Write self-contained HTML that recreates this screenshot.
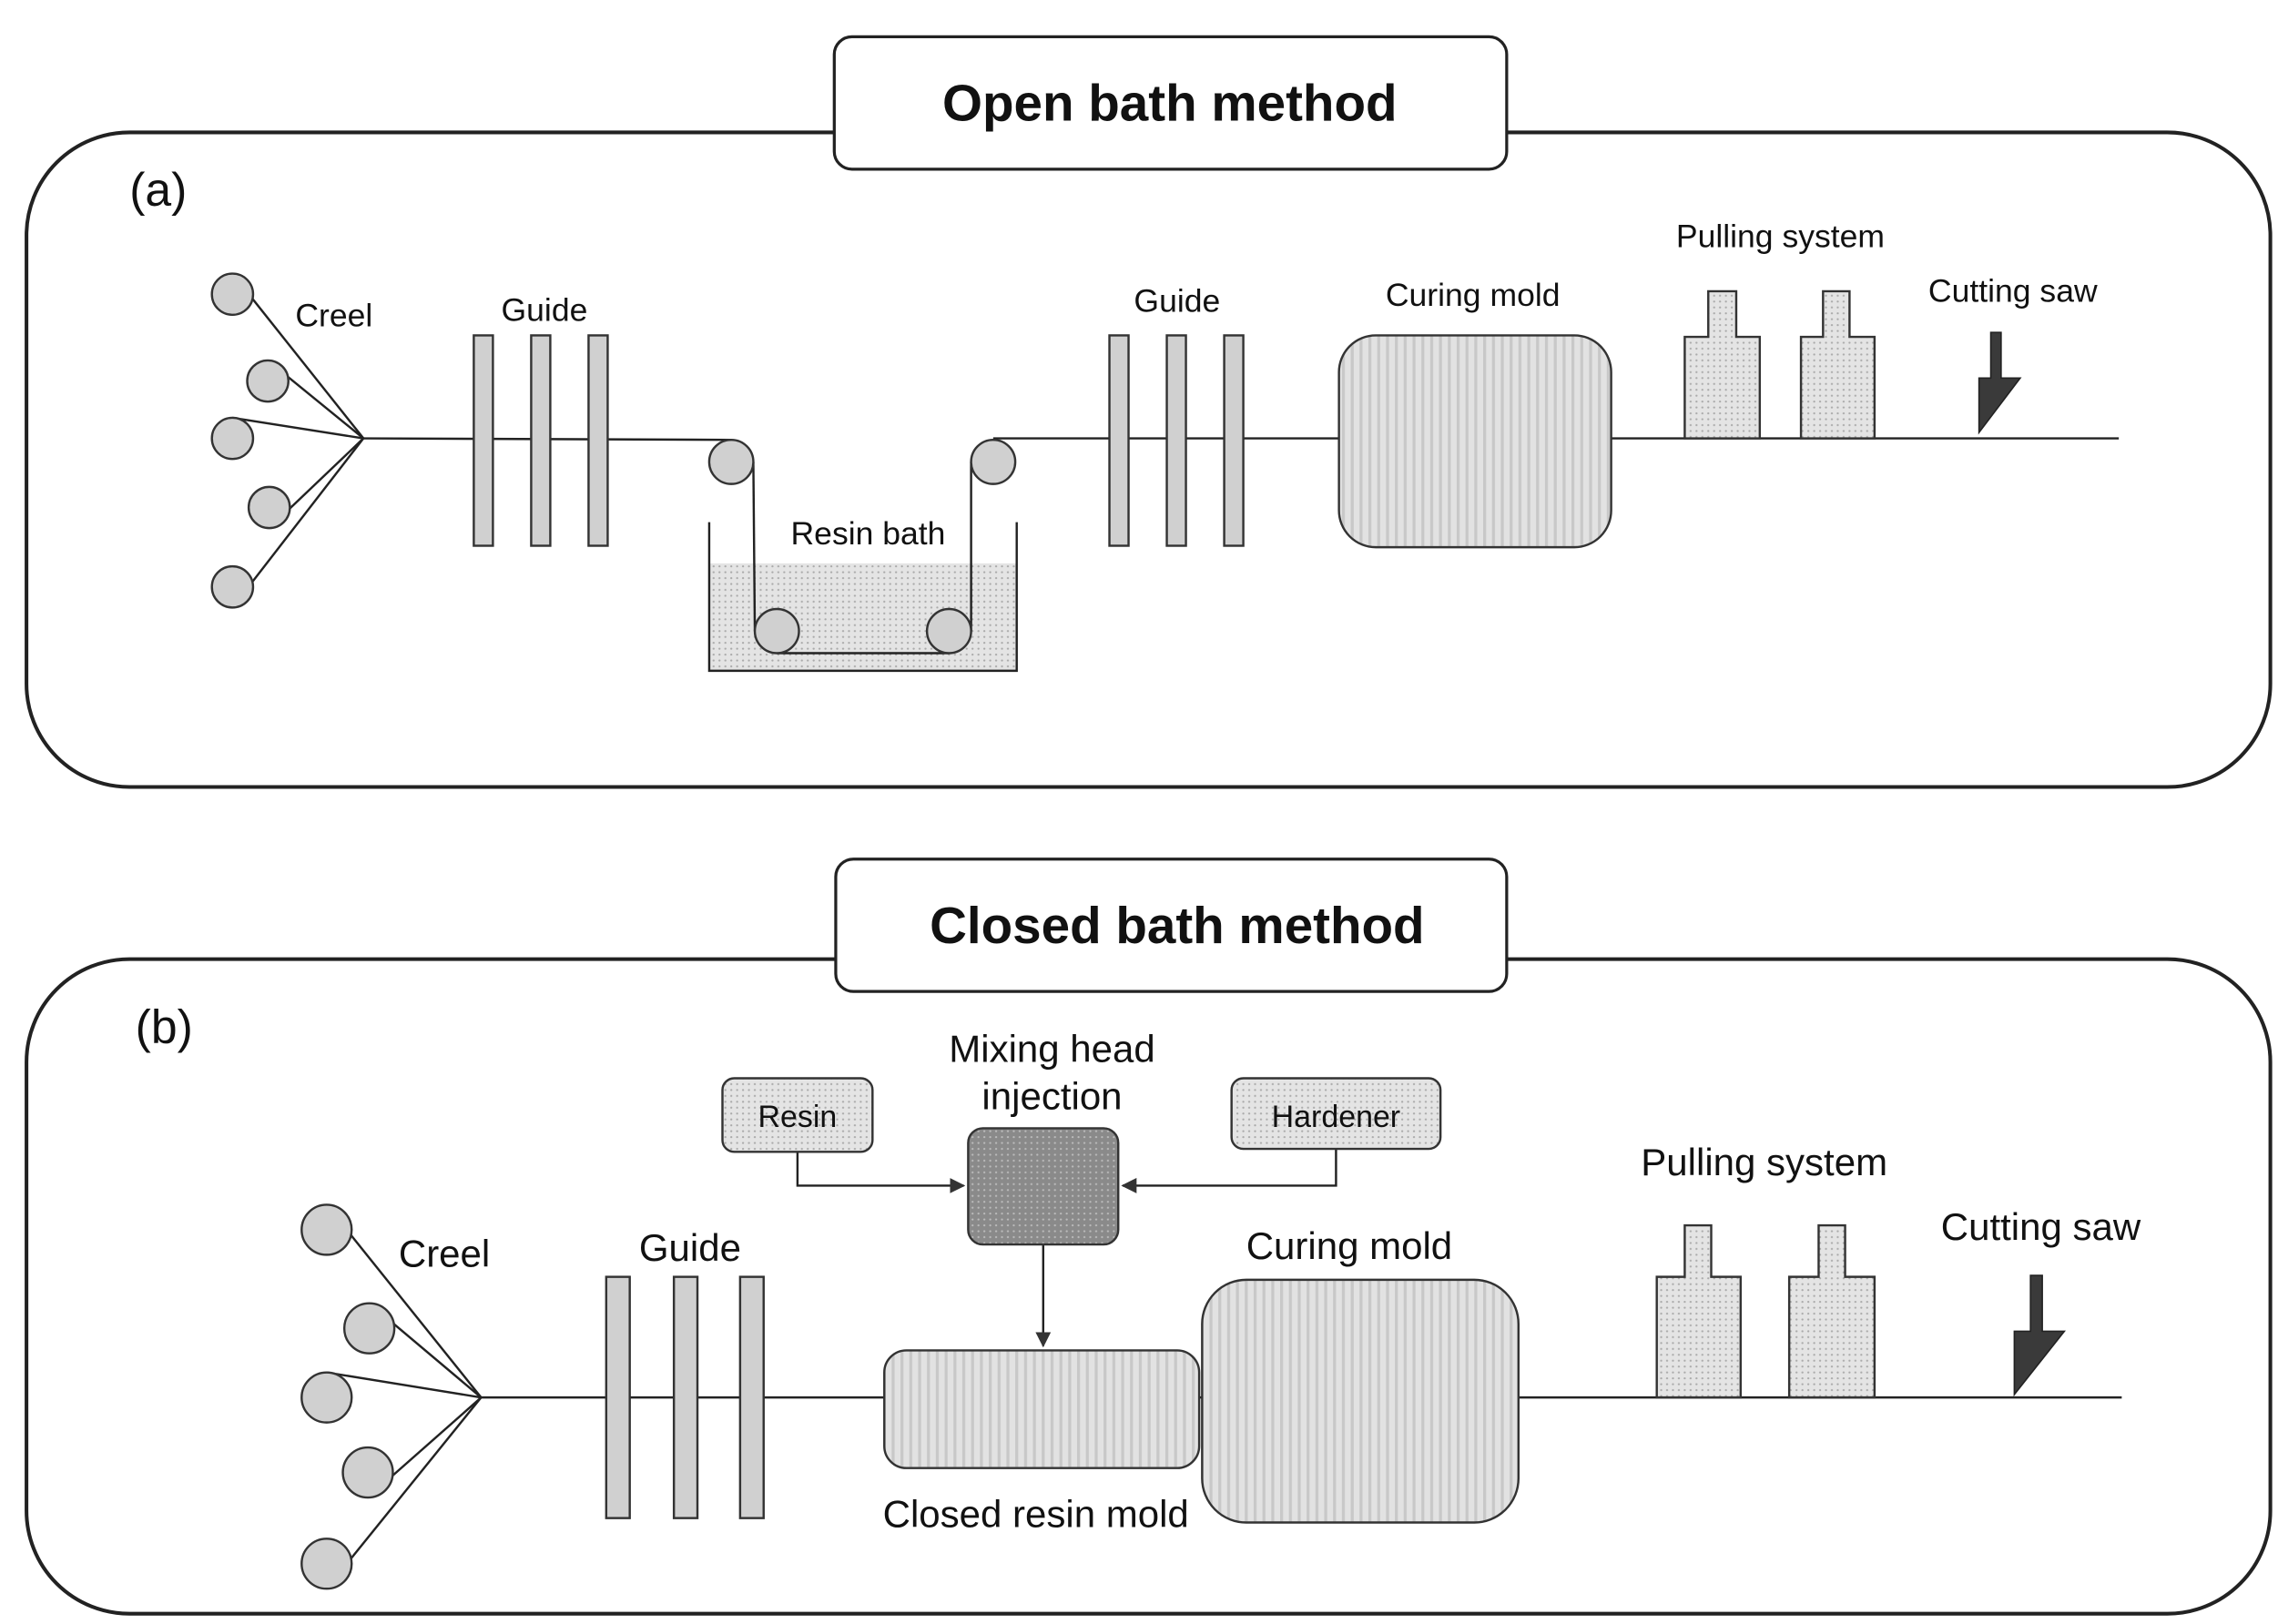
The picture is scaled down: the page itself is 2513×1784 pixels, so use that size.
<!DOCTYPE html>
<html><head><meta charset="utf-8"><style>html,body{margin:0;padding:0;background:#fff}svg{display:block}</style></head>
<body>
<svg width="2513" height="1784" viewBox="0 0 1555 1104" preserveAspectRatio="none" xmlns="http://www.w3.org/2000/svg" font-family="'Liberation Sans', sans-serif">
<defs>
<pattern id="dots" width="4" height="4" patternUnits="userSpaceOnUse"><rect width="4" height="4" fill="#e4e4e4"/><circle cx="1" cy="1" r="0.7" fill="#aaa"/></pattern>
<pattern id="stripe" width="6" height="6" patternUnits="userSpaceOnUse"><rect width="6" height="6" fill="#e2e2e2"/><rect x="0" width="2" height="6" fill="#c8c8c8"/></pattern>
<pattern id="dark" width="4" height="4" patternUnits="userSpaceOnUse"><rect width="4" height="4" fill="#8a8a8a"/><circle cx="1" cy="1" r="0.7" fill="#bbb"/></pattern>
<marker id="ar" viewBox="0 0 10 10" refX="9" refY="5" markerWidth="7" markerHeight="7" orient="auto"><path d="M0,0L10,5L0,10z" fill="#333"/></marker>
</defs>
<g stroke="#222" stroke-width="2.5" fill="none">
<rect x="18" y="90" width="1525" height="445" rx="70"/>
<rect x="18" y="652" width="1525" height="445" rx="70"/>
</g>
<rect x="567" y="25" width="457" height="90" rx="12" fill="#fff" stroke="#222" stroke-width="2"/>
<rect x="568" y="584" width="456" height="90" rx="12" fill="#fff" stroke="#222" stroke-width="2"/>
<text x="795" y="82" font-size="35" font-weight="bold" text-anchor="middle" fill="#111">Open bath method</text>
<text x="800" y="641" font-size="35" font-weight="bold" text-anchor="middle" fill="#111">Closed bath method</text>
<text x="88" y="140" font-size="32" fill="#111">(a)</text>
<text x="92" y="709" font-size="32" fill="#111">(b)</text>

<!-- TOP -->
<g stroke="#222" stroke-width="1.5" fill="none">
<line x1="158" y1="186" x2="247" y2="298"/><line x1="182" y1="245" x2="247" y2="298"/><line x1="158" y1="284" x2="247" y2="298"/><line x1="183" y1="359" x2="247" y2="298"/><line x1="158" y1="413" x2="247" y2="298"/>
</g>
<rect x="482" y="383" width="209" height="73" fill="url(#dots)"/>
<path d="M482,355V456H691V355" stroke="#222" stroke-width="1.5" fill="none"/>
<g stroke="#222" stroke-width="1.5" fill="none">
<line x1="247" y1="298" x2="497" y2="299"/>
<line x1="482" y1="314" x2="513" y2="429" opacity="0"/>
<line x1="512" y1="314" x2="513" y2="429"/>
<line x1="528" y1="444" x2="645" y2="444"/>
<line x1="660" y1="429" x2="660" y2="314"/>
<line x1="675" y1="298" x2="1440" y2="298"/>
</g>
<g fill="#d0d0d0" stroke="#333" stroke-width="1.5">
<circle cx="158" cy="200" r="14"/><circle cx="182" cy="259" r="14"/><circle cx="158" cy="298" r="14"/><circle cx="183" cy="345" r="14"/><circle cx="158" cy="399" r="14"/>
<circle cx="497" cy="314" r="15"/><circle cx="528" cy="429" r="15"/><circle cx="645" cy="429" r="15"/><circle cx="675" cy="314" r="15"/>
<rect x="322" y="228" width="13" height="143"/><rect x="361" y="228" width="13" height="143"/><rect x="400" y="228" width="13" height="143"/>
<rect x="754" y="228" width="13" height="143"/><rect x="793" y="228" width="13" height="143"/><rect x="832" y="228" width="13" height="143"/>
</g>
<rect x="910" y="228" width="185" height="144" rx="25" fill="url(#stripe)" stroke="#333" stroke-width="1.5"/>
<path d="M1145,298V229H1161V198H1180V229H1196V298Z" fill="url(#dots)" stroke="#333" stroke-width="1.5"/>
<path d="M1224,298V229H1239V198H1257V229H1274V298Z" fill="url(#dots)" stroke="#333" stroke-width="1.5"/>
<path d="M1353,226H1360V257H1373L1345,294V257H1353Z" fill="#3a3a3a" stroke="#222" stroke-width="1"/>
<g font-size="22" fill="#111" text-anchor="middle">
<text x="227" y="222">Creel</text><text x="370" y="218">Guide</text><text x="590" y="370">Resin bath</text>
<text x="800" y="212">Guide</text><text x="1001" y="208">Curing mold</text><text x="1210" y="168">Pulling system</text><text x="1368" y="205">Cutting saw</text>
</g>

<!-- BOTTOM -->
<g stroke="#222" stroke-width="1.5" fill="none">
<line x1="222" y1="819" x2="327" y2="950"/><line x1="251" y1="886" x2="327" y2="950"/><line x1="222" y1="933" x2="327" y2="950"/><line x1="250" y1="1018" x2="327" y2="950"/><line x1="222" y1="1080" x2="327" y2="950"/>
<line x1="327" y1="950" x2="1442" y2="950"/>
<path d="M542,783V806H655" marker-end="url(#ar)"/>
<path d="M908,781V806H763" marker-end="url(#ar)"/>
<path d="M709,846V915" marker-end="url(#ar)"/>
</g>
<g fill="#d0d0d0" stroke="#333" stroke-width="1.5">
<circle cx="222" cy="836" r="17"/><circle cx="251" cy="903" r="17"/><circle cx="222" cy="950" r="17"/><circle cx="250" cy="1001" r="17"/><circle cx="222" cy="1063" r="17"/>
<rect x="412" y="868" width="16" height="164"/><rect x="458" y="868" width="16" height="164"/><rect x="503" y="868" width="16" height="164"/>
</g>
<rect x="491" y="733" width="102" height="50" rx="8" fill="url(#dots)" stroke="#333" stroke-width="1.5"/>
<rect x="837" y="733" width="142" height="48" rx="8" fill="url(#dots)" stroke="#333" stroke-width="1.5"/>
<rect x="658" y="767" width="102" height="79" rx="10" fill="url(#dark)" stroke="#333" stroke-width="1.5"/>
<rect x="601" y="918" width="214" height="80" rx="15" fill="url(#stripe)" stroke="#333" stroke-width="1.5"/>
<rect x="817" y="870" width="215" height="165" rx="30" fill="url(#stripe)" stroke="#333" stroke-width="1.5"/>
<path d="M1126,950V868H1145V833H1163V868H1183V950Z" fill="url(#dots)" stroke="#333" stroke-width="1.5"/>
<path d="M1216,950V868H1236V833H1254V868H1274V950Z" fill="url(#dots)" stroke="#333" stroke-width="1.5"/>
<path d="M1380,867H1388V905H1403L1369,948V905H1380Z" fill="#3a3a3a" stroke="#222" stroke-width="1"/>
<g font-size="26" fill="#111" text-anchor="middle">
<text x="302" y="861">Creel</text><text x="469" y="857">Guide</text>
<text x="715" y="722">Mixing head</text><text x="715" y="754">injection</text>
<text x="704" y="1038">Closed resin mold</text><text x="917" y="856">Curing mold</text>
<text x="1199" y="799">Pulling system</text><text x="1387" y="843">Cutting saw</text>
</g>
<g font-size="21" fill="#111" text-anchor="middle">
<text x="542" y="766">Resin</text><text x="908" y="766">Hardener</text>
</g>
</svg>
</body></html>
